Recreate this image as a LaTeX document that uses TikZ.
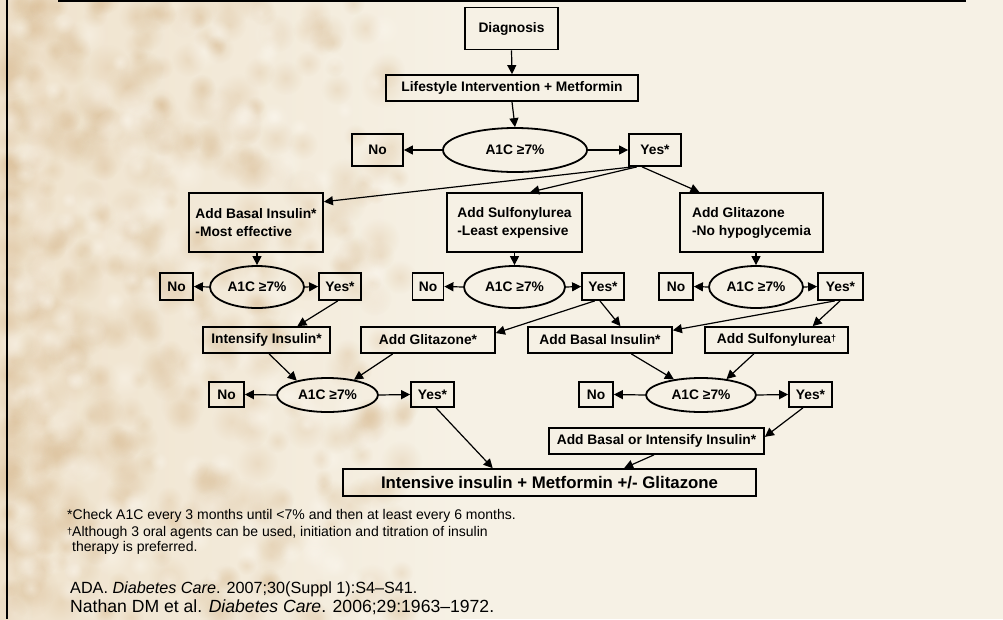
\documentclass[tikz,border=0pt]{standalone}
\usepackage{fontspec}
\setmainfont{Liberation Sans}
\usetikzlibrary{arrows.meta,shapes.geometric,calc,fadings}
\definecolor{bg}{RGB}{246,241,229}
\definecolor{tanA}{RGB}{212,178,132}
\definecolor{tanB}{RGB}{239,226,204}
\definecolor{creamL}{RGB}{252,248,240}
\tikzfading[name=softblob, inner color=transparent!0, outer color=transparent!100]
\begin{document}
\begin{tikzpicture}[x=1pt,y=-1pt,
  box/.style={draw, line width=1.8pt, inner sep=0pt, align=center,
    font=\fontsize{13.8}{18}\selectfont\bfseries},
  twoline/.style={box, minimum height=59pt, align=left},
  oval/.style={draw, ellipse, line width=1.8pt, inner sep=0pt,
    font=\fontsize{13.8}{16}\selectfont\bfseries},
  conn/.style={line width=1.2pt, -{Triangle[length=9pt,width=9pt]}},
  foot/.style={inner sep=0pt, anchor=west, font=\fontsize{14}{16}\selectfont},
  refs/.style={inner sep=0pt, anchor=west}
]
\useasboundingbox (0,0) rectangle (1003,619);
% background
\fill[bg] (0,0) rectangle (1003,619);
\shade[left color=tanB, right color=bg] (0,0) rectangle (460,619);
\pgfmathsetseed{11}
\foreach \i in {1,...,460}{
  \pgfmathsetmacro\bx{8+pow(rnd,1.6)*400}
  \pgfmathsetmacro\by{rnd*619}
  \pgfmathsetmacro\br{9+rnd*14}
  \fill[tanA, opacity=0.26, path fading=softblob] (\bx,\by) circle[radius=\br pt];
}
\foreach \i in {1,...,160}{
  \pgfmathsetmacro\bx{8+pow(rnd,1.4)*380}
  \pgfmathsetmacro\by{rnd*619}
  \pgfmathsetmacro\br{8+rnd*12}
  \fill[creamL, opacity=0.45, path fading=softblob] (\bx,\by) circle[radius=\br pt];
}
% frame lines
\draw[line width=2pt] (58,1) -- (966,1);
\draw[line width=2pt] (7,0) -- (7,619);

% level 1
\node[box, minimum width=93pt, minimum height=42pt] (diag) at (511.5,28.5) {Diagnosis};
\node[box, minimum width=252pt, minimum height=26pt] (life) at (512,88) {Lifestyle Intervention + Metformin};
\node[oval, minimum width=144pt, minimum height=44pt] (e1) at (515,150) {A1C ≥7\%};
\node[box, minimum width=51pt, minimum height=32pt] (no1) at (377.5,150) {No};
\node[box, minimum width=52pt, minimum height=32pt] (yes1) at (655,150) {Yes*};

% level 2
\node[twoline, minimum width=134pt] (basal1) at (256,222.5) {Add Basal Insulin*\\-Most effective};
\node[twoline, minimum width=135pt] (sulf1) at (514.5,222.5) {Add Sulfonylurea\\-Least expensive};
\node[twoline, minimum width=143pt] (glit1) at (751.5,222.5) {Add Glitazone\\-No hypoglycemia};

\node[oval, minimum width=94pt, minimum height=42pt] (e2l) at (257,287) {A1C ≥7\%};
\node[box, minimum width=33pt, minimum height=27pt] (no2l) at (176.5,286.5) {No};
\node[box, minimum width=42pt, minimum height=27pt] (yes2l) at (340,286.5) {Yes*};

\node[oval, minimum width=101pt, minimum height=42pt] (e2m) at (514.5,287) {A1C ≥7\%};
\node[box, minimum width=31pt, minimum height=27pt] (no2m) at (428,286.5) {No};
\node[box, minimum width=42pt, minimum height=27pt] (yes2m) at (603,286.5) {Yes*};

\node[oval, minimum width=94pt, minimum height=42pt] (e2r) at (756,287) {A1C ≥7\%};
\node[box, minimum width=34pt, minimum height=27pt] (no2r) at (676,286.5) {No};
\node[box, minimum width=45pt, minimum height=27pt] (yes2r) at (840.5,286.5) {Yes*};

% level 3
\node[box, minimum width=127pt, minimum height=26pt] (intens) at (266.5,340) {Intensify Insulin*};
\node[box, minimum width=134pt, minimum height=26pt] (glit2) at (428,340) {Add Glitazone*};
\node[box, minimum width=144pt, minimum height=26pt] (basal2) at (600,340) {Add Basal Insulin*};
\node[box, minimum width=143pt, minimum height=26pt] (sulf2) at (776.5,340) {Add Sulfonylurea{\fontsize{9}{9}\selectfont\raisebox{2.5pt}{†}}};

% level 4
\node[oval, minimum width=101pt, minimum height=34pt] (e4l) at (327.5,395) {A1C ≥7\%};
\node[box, minimum width=35pt, minimum height=25pt] (no4l) at (226.5,394.5) {No};
\node[box, minimum width=43pt, minimum height=25pt] (yes4l) at (432.5,394.5) {Yes*};

\node[oval, minimum width=110pt, minimum height=34pt] (e4r) at (701,395) {A1C ≥7\%};
\node[box, minimum width=34pt, minimum height=25pt] (no4r) at (596,394.5) {No};
\node[box, minimum width=43pt, minimum height=25pt] (yes4r) at (810.5,394.5) {Yes*};

\node[box, minimum width=215pt, minimum height=26pt] (bori) at (656.5,441) {Add Basal or Intensify Insulin*};
\node[box, minimum width=413pt, minimum height=27pt, font=\fontsize{16.8}{19}\selectfont\bfseries] (final) at (549.5,482.5) {Intensive insulin + Metformin +/- Glitazone};

% connectors level 1
\draw[conn] (diag.south) -- (life.north);
\draw[conn] (life.south) -- (e1.north);
\draw[conn] (e1.west) -- (no1.east);
\draw[conn] (e1.east) -- (yes1.west);
\draw[conn] ($(yes1.south west)!0.08!(yes1.south east)$) -- (basal1.17);
\draw[conn] ($(yes1.south west)!0.16!(yes1.south east)$) -- ($(sulf1.north west)!0.615!(sulf1.north east)$);
\draw[conn] ($(yes1.south west)!0.26!(yes1.south east)$) -- ($(glit1.north west)!0.14!(glit1.north east)$);

% level 2
\draw[conn] (basal1.south -| e2l.north) -- (e2l.north);
\draw[conn] (sulf1.south -| e2m.north) -- (e2m.north);
\draw[conn] (glit1.south -| e2r.north) -- (e2r.north);
\draw[conn] (e2l.west) -- (no2l.east);
\draw[conn] (e2l.east) -- (yes2l.west);
\draw[conn] (e2m.west) -- (no2m.east);
\draw[conn] (e2m.east) -- (yes2m.west);
\draw[conn] (e2r.west) -- (no2r.east);
\draw[conn] (e2r.east) -- (yes2r.west);

% level 2 -> 3
\draw[conn] ($(yes2l.south west)!0.45!(yes2l.south east)$) -- ($(intens.north west)!0.74!(intens.north east)$);
\draw[conn] ($(yes2m.south west)!0.31!(yes2m.south east)$) -- ($(glit2.north east)!0.25!(glit2.south east)$);
\draw[conn] ($(yes2m.south west)!0.43!(yes2m.south east)$) -- ($(basal2.north west)!0.64!(basal2.north east)$);
\draw[conn] ($(yes2r.south west)!0.38!(yes2r.south east)$) -- ($(basal2.north east)!0.15!(basal2.south east)$);
\draw[conn] ($(yes2r.south west)!0.49!(yes2r.south east)$) -- ($(sulf2.north west)!0.75!(sulf2.north east)$);

% level 3 -> 4
\draw[conn] ($(intens.south west)!0.52!(intens.south east)$) -- (e4l.155);
\draw[conn] ($(glit2.south west)!0.24!(glit2.south east)$) -- (e4l.30);
\draw[conn] ($(basal2.south west)!0.715!(basal2.south east)$) -- (e4r.150);
\draw[conn] ($(sulf2.south west)!0.343!(sulf2.south east)$) -- (e4r.32);
\draw[conn] (e4l.west) -- (no4l.east);
\draw[conn] (e4l.east) -- (yes4l.west);
\draw[conn] (e4r.west) -- (no4r.east);
\draw[conn] (e4r.east) -- (yes4r.west);

% to final
\draw[conn] ($(yes4l.south west)!0.58!(yes4l.south east)$) -- ($(final.north west)!0.363!(final.north east)$);
\draw[conn] ($(yes4r.south west)!0.33!(yes4r.south east)$) -- ($(bori.north east)!0.35!(bori.south east)$);
\draw[conn] ($(bori.south west)!0.488!(bori.south east)$) -- ($(final.north west)!0.68!(final.north east)$);

% footnotes
\node[foot] (fn1) at (67,516) {*Check A1C every 3 months until <7\% and then at least every 6 months.};
\node[foot] (fn2) at (67,533) {{\fontsize{9}{9}\selectfont\raisebox{2.5pt}{†}}Although 3 oral agents can be used, initiation and titration of insulin};
\node[foot] (fn3) at (72,548) {therapy is preferred.};
\node[refs, font=\fontsize{16.2}{19}\selectfont] (ref1) at (70,589) {ADA. \textit{Diabetes Care}. 2007;30(Suppl 1):S4–S41.};
\node[refs, font=\fontsize{17.6}{19}\selectfont] (ref2) at (70,607) {Nathan DM et al. \textit{Diabetes Care}. 2006;29:1963–1972.};
\end{tikzpicture}
\end{document}
